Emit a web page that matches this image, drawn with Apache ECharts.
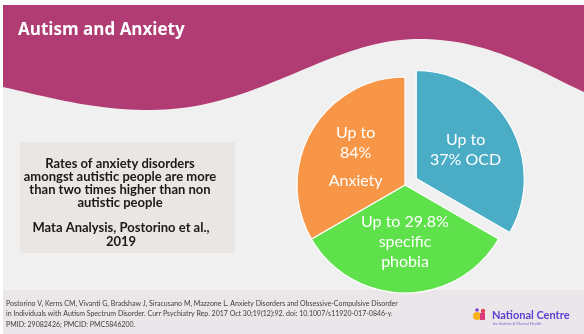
<!DOCTYPE html>
<html>
<head>
<meta charset="utf-8">
<script src="https://cdn.jsdelivr.net/npm/echarts@6/dist/echarts.min.js"></script>
<style>
html,body{margin:0;padding:0;background:#fff;}
#c{width:584px;height:334px;}
</style>
</head>
<body>
<div id="c"></div>
<script>
// Data
const categories = ['OCD', 'Specific phobia', 'Anxiety'];
const upToPercent = [37, 29.8, 84];
const sliceWeights = [1, 1, 1]; // the slices are drawn as equal thirds in the reference
const sliceColors = ['#4BACC6', '#5EE14A', '#F79646'];
const titleText = 'Autism and Anxiety';
const boxLines = [
  'Rates of anxiety disorders',
  'amongst autistic people are more',
  'than two times higher than non',
  'autistic people'
];
const boxSource = ['Mata Analysis, Postorino et al.,', '2019'];
const footerLines = [
  'Postorino V, Kerns CM, Vivanti G, Bradshaw J, Siracusano M, Mazzone L. Anxiety Disorders and Obsessive-Compulsive Disorder',
  'in Individuals with Autism Spectrum Disorder. Curr Psychiatry Rep. 2017 Oct 30;19(12):92. doi: 10.1007/s11920-017-0846-y.',
  'PMID: 29082426; PMCID: PMC5846200.'
];

const labelFormat = {
  'OCD': (p) => '{a|Up to}\n{a|' + p + '% OCD}',
  'Specific phobia': (p) => '{a|Up to ' + p + '%}\n{a|specific}\n{a|phobia}',
  'Anxiety': (p) => '{a|Up to}\n{a|' + p + '%}\n{s|}\n{a|Anxiety}'
};

const pieData = categories.map((c, i) => ({
  name: c,
  value: sliceWeights[i],
  pct: upToPercent[i],
  selected: i === 0,
  itemStyle: { color: sliceColors[i] }
}));

// decorative header wave (sampled cubic segments)
function cubic(p0, p1, p2, p3, n) {
  const out = [];
  for (let k = 0; k <= n; k++) {
    const t = k / n, u = 1 - t;
    out.push([
      u*u*u*p0[0] + 3*u*u*t*p1[0] + 3*u*t*t*p2[0] + t*t*t*p3[0],
      u*u*u*p0[1] + 3*u*u*t*p1[1] + 3*u*t*t*p2[1] + t*t*t*p3[1]
    ]);
  }
  return out;
}
const wavePts = [].concat(
  cubic([584,92],[540,72],[490,39],[420,39],30),
  cubic([420,39],[330,38],[260,110],[150,110],40),
  cubic([150,110],[90,110],[40,95],[3,87],25),
  [[3,5],[584,5]]
);

const chart = echarts.init(document.getElementById('c'));

chart.setOption({
  backgroundColor: '#ffffff',
  animation: false,
  graphic: [
    { type: 'rect', z: -10, shape: { x: 3, y: 5, width: 581, height: 329 }, style: { fill: '#F0F0F0' } },
    { type: 'polygon', z: -9, shape: { points: wavePts }, style: { fill: '#B13C74' } },
    { type: 'rect', z: -8, shape: { x: 3, y: 290, width: 581, height: 44 }, style: { fill: '#EBE6E9' } },
    { type: 'text', z: 5, left: 18, top: 22, style: { text: titleText, fill: '#ffffff', font: 'bold 17px "Open Sans"' } },
    { type: 'rect', z: -7, shape: { x: 20, y: 142, width: 215, height: 111 }, style: { fill: '#EAE6E3' } },
    { type: 'text', z: 5, style: { x: 120, y: 157, text: boxLines.join('\n'), fill: '#1a1a1a', font: 'bold 13px Lato', align: 'center', lineHeight: 13 } },
    { type: 'text', z: 5, style: { x: 121, y: 221, text: boxSource.join('\n'), fill: '#1a1a1a', font: 'bold 13px Lato', align: 'center', lineHeight: 14 } },
    { type: 'text', z: 5, style: { x: 6, y: 298, text: footerLines.join('\n'), fill: '#404040', font: '7px Lato', lineHeight: 10.6 } },
    { type: 'circle', z: 5, shape: { cx: 477, cy: 316, r: 4 }, style: { fill: '#F7B21E' } },
    { type: 'circle', z: 5, shape: { cx: 483, cy: 311, r: 2.2 }, style: { fill: '#E63F5A' } },
    { type: 'circle', z: 5, shape: { cx: 477, cy: 310, r: 1.8 }, style: { fill: '#7B3FD0' } },
    { type: 'rect', z: 5, shape: { x: 480, y: 313, width: 5, height: 7 }, style: { fill: '#D93A7A' } },
    { type: 'text', z: 5, style: { x: 492, y: 310, text: 'National Centre', fill: '#5B3FD2', font: 'bold 11px Lato' } },
    { type: 'text', z: 5, style: { x: 493, y: 322, text: 'for Autism & Mental Health', fill: '#7A66D8', font: '4px Lato' } }
  ],
  series: [{
    type: 'pie',
    center: [405, 185],
    radius: [0, 108],
    startAngle: 90,
    clockwise: true,
    selectedMode: 'single',
    selectedOffset: 13,
    avoidLabelOverlap: false,
    emphasis: { disabled: true },
    itemStyle: { borderColor: '#ffffff', borderWidth: 1.2 },
    label: {
      show: true,
      position: 'inside',
      color: '#ffffff',
      formatter: (p) => labelFormat[p.name](p.data.pct),
      rich: {
        a: { fontFamily: 'Lato', fontSize: 16, lineHeight: 20, color: '#ffffff', align: 'center' },
        s: { fontSize: 4, lineHeight: 8 }
      }
    },
    labelLine: { show: false },
    data: pieData
  }]
});
</script>
</body>
</html>
